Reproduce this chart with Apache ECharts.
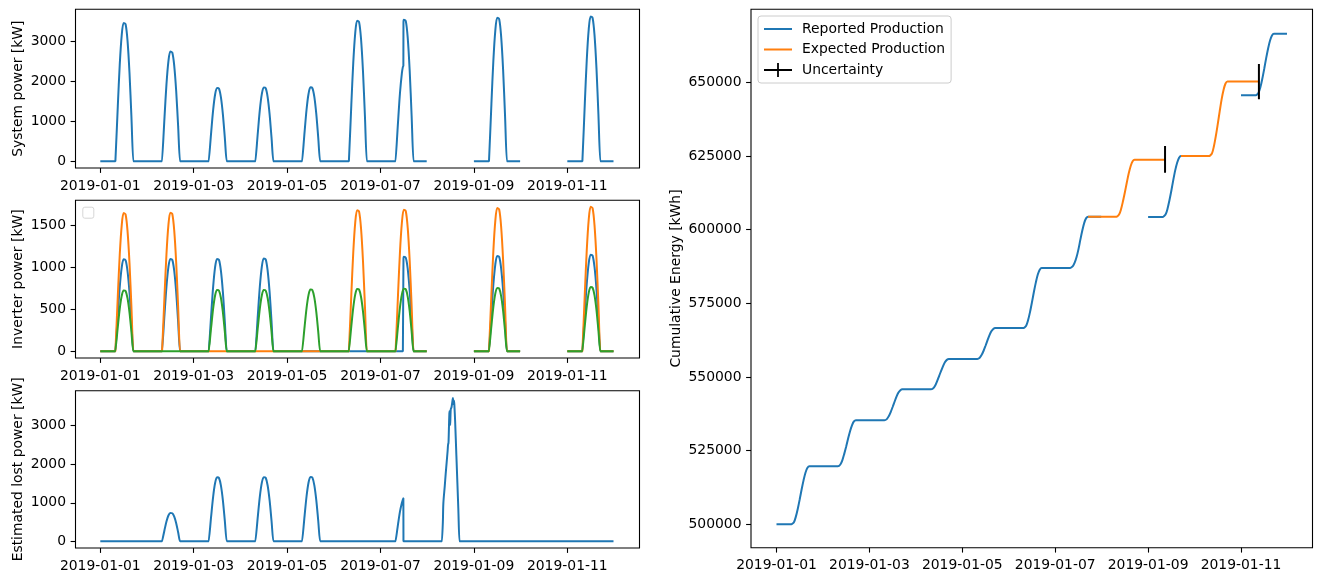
<!DOCTYPE html>
<html>
<head>
<meta charset="utf-8">
<script src="https://cdn.jsdelivr.net/npm/echarts@6.0.0/dist/echarts.min.js"></script>
<style>html,body{margin:0;padding:0;background:#fff}#c{width:1324px;height:582px}</style>
</head>
<body>
<div id="c"></div>
<script>
// ---------- DATA ----------
// Default sample hours of a day row; a row may give its own hour list as 3rd item.
const DAY_HOURS = [0, 7.75, 8, 9, 10, 11, 12, 13, 14, 15, 16, 17, 17.25, 23.75];
const ZERO_DAY = [0, 23.75];

const xTickDates = ['2019-01-01', '2019-01-03', '2019-01-05', '2019-01-07', '2019-01-09', '2019-01-11'];
const yTicksSystem = [0, 1000, 2000, 3000];
const yTicksInverter = [0, 500, 1000, 1500];
const yTicksLost = [0, 1000, 2000, 3000];
const yTicksEnergy = [500000, 525000, 550000, 575000, 600000, 625000, 650000];

// System power [kW]
const systemPower = [
  ['2019-01-01', [0, 0, 0, 1384, 2422, 3149, 3460, 3425, 3010, 2214, 1107, 0, 0, 0]],
  ['2019-01-02', [0, 0, 0, 1098, 1922, 2498, 2745, 2718, 2388, 1757, 878, 0, 0, 0]],
  ['2019-01-03', [0, 0, 0, 734, 1285, 1670, 1835, 1817, 1596, 1174, 587, 0, 0, 0]],
  ['2019-01-04', [0, 0, 0, 738, 1292, 1679, 1845, 1827, 1605, 1181, 590, 0, 0, 0]],
  ['2019-01-05', [0, 0, 0, 740, 1295, 1683, 1850, 1832, 1610, 1184, 592, 0, 0, 0]],
  ['2019-01-06', [0, 0, 0, 1406, 2461, 3199, 3515, 3480, 3058, 2250, 1125, 0, 0, 0]],
  ['2019-01-07', [0, 0, 0, 972, 1701, 2211, 2360, 2390, 3480, 3540, 3505, 3080, 2266, 1133, 0, 0, 0],
                 [0, 7.75, 8, 9, 10, 11, 11.5, 11.75, 11.8, 12, 13, 14, 15, 16, 17, 17.25, 23.75]],
  ['2019-01-09', [0, 0, 0, 1436, 2513, 3267, 3590, 3554, 3123, 2298, 1149, 0, 0, 0]],
  ['2019-01-11', [0, 0, 0, 1448, 2534, 3294, 3620, 3584, 3149, 2317, 1158, 0, 0, 0]]
];

// Inverter power [kW]
const inverterBlue = [
  ['2019-01-01', [0, 0, 0, 438, 767, 996, 1095, 1084, 953, 701, 350, 0, 0, 0]],
  ['2019-01-02', [0, 0, 0, 440, 770, 1001, 1100, 1089, 957, 704, 352, 0, 0, 0]],
  ['2019-01-03', [0, 0, 0, 440, 770, 1001, 1100, 1089, 957, 704, 352, 0, 0, 0]],
  ['2019-01-04', [0, 0, 0, 442, 774, 1006, 1105, 1094, 961, 707, 354, 0, 0, 0]],
  ['2019-01-05', [0, 0], ZERO_DAY],
  ['2019-01-06', [0, 0], ZERO_DAY],
  ['2019-01-07', [0, 0, 0, 1095, 1125, 1114, 979, 720, 360, 0, 0, 0],
                 [0, 11.5, 11.75, 11.8, 12, 13, 14, 15, 16, 17, 17.25, 23.75]],
  ['2019-01-09', [0, 0, 0, 454, 795, 1033, 1135, 1124, 987, 726, 363, 0, 0, 0]],
  ['2019-01-11', [0, 0, 0, 460, 805, 1047, 1150, 1139, 1001, 736, 368, 0, 0, 0]]
];
const inverterOrange = [
  ['2019-01-01', [0, 0, 0, 658, 1152, 1497, 1645, 1629, 1431, 1053, 526, 0, 0, 0]],
  ['2019-01-02', [0, 0, 0, 660, 1155, 1502, 1650, 1634, 1436, 1056, 528, 0, 0, 0]],
  ['2019-01-03', [0, 0], ZERO_DAY],
  ['2019-01-04', [0, 0], ZERO_DAY],
  ['2019-01-05', [0, 0], ZERO_DAY],
  ['2019-01-06', [0, 0, 0, 672, 1176, 1529, 1680, 1663, 1462, 1075, 538, 0, 0, 0]],
  ['2019-01-07', [0, 0, 0, 674, 1180, 1533, 1685, 1668, 1466, 1078, 539, 0, 0, 0]],
  ['2019-01-09', [0, 0, 0, 682, 1194, 1552, 1705, 1688, 1483, 1091, 546, 0, 0, 0]],
  ['2019-01-11', [0, 0, 0, 688, 1204, 1565, 1720, 1703, 1496, 1101, 550, 0, 0, 0]]
];
const inverterGreen = [
  ['2019-01-01', [0, 0, 0, 290, 508, 660, 725, 718, 631, 464, 232, 0, 0, 0]],
  ['2019-01-02', [0, 0], ZERO_DAY],
  ['2019-01-03', [0, 0, 0, 292, 511, 664, 730, 723, 635, 467, 234, 0, 0, 0]],
  ['2019-01-04', [0, 0, 0, 292, 511, 664, 730, 723, 635, 467, 234, 0, 0, 0]],
  ['2019-01-05', [0, 0, 0, 294, 515, 669, 735, 728, 639, 470, 235, 0, 0, 0]],
  ['2019-01-06', [0, 0, 0, 297, 519, 675, 742, 735, 646, 475, 237, 0, 0, 0]],
  ['2019-01-07', [0, 0, 0, 298, 522, 678, 745, 738, 648, 477, 238, 0, 0, 0]],
  ['2019-01-09', [0, 0, 0, 302, 529, 687, 755, 747, 657, 483, 242, 0, 0, 0]],
  ['2019-01-11', [0, 0, 0, 306, 536, 696, 765, 757, 666, 490, 245, 0, 0, 0]]
];

// Estimated lost power [kW]
const lostPower = [
  ['2019-01-01', [0, 0], ZERO_DAY],
  ['2019-01-02', [0, 0, 0, 294, 515, 669, 735, 728, 639, 470, 235, 0, 0, 0]],
  ['2019-01-03', [0, 0, 0, 664, 1162, 1511, 1660, 1643, 1444, 1062, 531, 0, 0, 0]],
  ['2019-01-04', [0, 0, 0, 666, 1166, 1515, 1665, 1648, 1449, 1066, 533, 0, 0, 0]],
  ['2019-01-05', [0, 0, 0, 668, 1169, 1520, 1670, 1653, 1453, 1069, 534, 0, 0, 0]],
  ['2019-01-06', [0, 0], ZERO_DAY],
  ['2019-01-07', [0, 0, 0, 440, 770, 1001, 1085, 1115, 0, 0, 0],
                 [0, 7.75, 8, 9, 10, 11, 11.5, 11.75, 11.8, 12, 23.75]],
  ['2019-01-08', [0, 0, 0, 500, 985, 1420, 1750, 2050, 2350, 2560, 2520, 2620, 3330, 3380, 3020, 3420, 3480, 3650, 3720, 3560, 3650, 3500, 3120, 2220, 1530, 830, 0, 0, 0],
                 [0, 7.6, 7.8, 8.05, 8.3, 9, 9.5, 10, 10.5, 10.8, 10.9, 11, 11.4, 11.6, 11.8, 12.1, 12.5, 13, 13.2, 13.5, 13.8, 14, 14.35, 15, 15.5, 16, 16.6, 16.8, 23.75]],
  ['2019-01-09', [0, 0], ZERO_DAY],
  ['2019-01-10', [0, 0], ZERO_DAY],
  ['2019-01-11', [0, 0], ZERO_DAY]
];

// Cumulative energy [kWh]
const reportedProduction = [
  ['2019-01-01', [500000, 500000, 500000, 500700, 502600, 505300, 508500, 511900, 515000, 517600, 519200, 519700, 519700, 519700]],
  ['2019-01-02', [519700, 519700, 519700, 520300, 521700, 523900, 526400, 529100, 531600, 533600, 534900, 535300, 535300, 535300]],
  ['2019-01-03', [535300, 535300, 535300, 535700, 536700, 538100, 539800, 541600, 543300, 544700, 545500, 545800, 545800, 545800]],
  ['2019-01-04', [545800, 545800, 545800, 546200, 547100, 548600, 550300, 552000, 553600, 555000, 555800, 556100, 556100, 556100]],
  ['2019-01-05', [556100, 556100, 556100, 556500, 557500, 558900, 560600, 562400, 564100, 565500, 566300, 566600, 566600, 566600]],
  ['2019-01-06', [566600, 566600, 566600, 567400, 569300, 572100, 575400, 578900, 582100, 584800, 586400, 587000, 587000, 587000]],
  ['2019-01-07', [587000, 587000, 587000, 587500, 588700, 590600, 593300, 596600, 599700, 602300, 603900, 604400, 604400, 604400]],
  ['2019-01-09', [604300, 604300, 604300, 605100, 607000, 609900, 613200, 616800, 620100, 622700, 624400, 625000, 625000, 625000]],
  ['2019-01-11', [645600, 645600, 645600, 646400, 648300, 651200, 654600, 658200, 661500, 664200, 665900, 666500, 666500, 666500]]
];
const expectedProduction = [
  ['2019-01-07', [604400, 604400], [17, 23.75]],
  ['2019-01-08', [604400, 604400, 604400, 605100, 606900, 609600, 612700, 616000, 619100, 621600, 623200, 623700, 623700, 623700]],
  ['2019-01-09', [623700, 623700], [0, 8.75]],
  ['2019-01-09', [625000, 625000], [17, 23.75]],
  ['2019-01-10', [625000, 625000, 625000, 625900, 628300, 631800, 635900, 640200, 644300, 647500, 649600, 650300, 650300, 650300]],
  ['2019-01-11', [650300, 650300], [0, 9.25]]
];
const uncertaintyDay = ['2019-01-09', '2019-01-11'];
const uncertaintyHour = [8.75, 9.25];
const uncertaintyLow = [619300, 644250];
const uncertaintyHigh = [628400, 656200];

// ---------- helpers ----------
const DAY = 86400000;
function toTime(date, hour) {
  const p = date.split('-').map(Number);
  const h = Math.floor(hour);
  const mi = Math.round((hour - h) * 60);
  return new Date(p[0], p[1] - 1, p[2], h, mi).getTime();
}
function buildSeries(rows) {
  const out = [];
  let last = null;
  rows.forEach(r => {
    const hours = r[2] || DAY_HOURS;
    const vals = r[1];
    const first = toTime(r[0], hours[0]);
    if (last !== null && first - last > 3600000) out.push([(first + last) / 2, null]);
    hours.forEach((h, i) => out.push([toTime(r[0], h), vals[i]]));
    last = toTime(r[0], hours[hours.length - 1]);
  });
  return out;
}
function pad(n) { return n < 10 ? '0' + n : '' + n; }
function fmtDate(v) {
  const d = new Date(v);
  return d.getFullYear() + '-' + pad(d.getMonth() + 1) + '-' + pad(d.getDate());
}
const T0 = toTime('2019-01-01', 0);
const xTickValues = xTickDates.map(d => toTime(d, 0));
const FONT = 'DejaVu Sans';
const FS = 13.9;
const BLUE = '#1f77b4', ORANGE = '#ff7f0e', GREEN = '#2ca02c';
// legend line handle: a 28x14 box holding a 2px horizontal bar
const LINE_ICON = 'path://M0,0 L0.01,0 L0,0.01 Z M28,14 L27.99,14 L28,13.99 Z M0,6 L28,6 L28,8 L0,8 Z';
const CROSS_ICON = 'path://M0,6.1 L28,6.1 L28,7.9 L0,7.9 Z M13.1,0 L14.9,0 L14.9,14 L13.1,14 Z';

const grids = [
  {left: 75.5, top: 9.3, width: 564, height: 158.7},
  {left: 75.5, top: 200.3, width: 564, height: 157.7},
  {left: 75.5, top: 390.7, width: 564, height: 157.3},
  {left: 751, top: 9.3, width: 561.5, height: 538.4}
].map(g => Object.assign(g, {show: true, borderColor: '#000', borderWidth: 1.1, backgroundColor: '#fff', containLabel: false}));

function xAxis(gi, minDay, maxDay) {
  return {
    type: 'value', gridIndex: gi, min: T0 + minDay * DAY, max: T0 + maxDay * DAY,
    axisLine: {show: false, onZero: false},
    splitLine: {show: false},
    axisTick: {show: true, length: 4.9, customValues: xTickValues, lineStyle: {color: '#000', width: 1.1}},
    axisLabel: {show: true, customValues: xTickValues, margin: 11, color: '#000', fontSize: FS, fontFamily: FONT,
                formatter: v => fmtDate(v), hideOverlap: false}
  };
}
function yAxis(gi, min, max, ticks, name, gap) {
  return {
    type: 'value', gridIndex: gi, min: min, max: max,
    name: name, nameLocation: 'middle', nameGap: gap,
    nameTextStyle: {color: '#000', fontSize: FS, fontFamily: FONT},
    axisLine: {show: false, onZero: false},
    splitLine: {show: false},
    axisTick: {show: true, length: 4.9, customValues: ticks, lineStyle: {color: '#000', width: 1.1}},
    axisLabel: {show: true, customValues: ticks, margin: 9.5, color: '#000', fontSize: FS, fontFamily: FONT,
                formatter: v => String(Math.round(v)), hideOverlap: false}
  };
}
function lineSeries(name, xi, data, color, smooth) {
  return {
    type: 'line', name: name, xAxisIndex: xi, yAxisIndex: xi, data: data,
    symbol: 'none', showSymbol: false, connectNulls: false, clip: true,
    smooth: smooth === undefined ? 0.3 : smooth,
    lineStyle: {color: color, width: 2}, itemStyle: {color: color},
    emphasis: {disabled: true}, silent: true
  };
}

const uncertaintyData = [];
uncertaintyDay.forEach((d, i) => {
  const t = toTime(d, uncertaintyHour[i]);
  if (i > 0) uncertaintyData.push([t - 3600000, null]);
  uncertaintyData.push([t, uncertaintyLow[i]]);
  uncertaintyData.push([t, uncertaintyHigh[i]]);
});

const option = {
  animation: false,
  backgroundColor: '#fff',
  textStyle: {fontFamily: FONT},
  grid: grids,
  xAxis: [xAxis(0, -0.531, 11.546), xAxis(1, -0.531, 11.546), xAxis(2, -0.531, 11.546), xAxis(3, -0.549, 11.539)],
  yAxis: [
    yAxis(0, -167.5, 3800, yTicksSystem, 'System power [kW]', 50),
    yAxis(1, -79.8, 1797.6, yTicksInverter, 'Inverter power [kW]', 50),
    yAxis(2, -173.9, 3908, yTicksLost, 'Estimated lost power [kW]', 50),
    yAxis(3, 492059, 674773, yTicksEnergy, 'Cumulative Energy [kWh]', 68)
  ],
  legend: {
    show: true, orient: 'vertical', left: 758, top: 16,
    padding: [6, 6, 6, 6], itemGap: 6.5, itemWidth: 28, itemHeight: 14,
    backgroundColor: '#fff', borderColor: '#cccccc', borderWidth: 1, borderRadius: 3,
    textStyle: {fontSize: FS, color: '#000', fontFamily: FONT, lineHeight: 14, padding: [0, 0, 0, 5]},
    selectedMode: false,
    data: [
      {name: 'Reported Production', icon: LINE_ICON},
      {name: 'Expected Production', icon: LINE_ICON},
      {name: 'Uncertainty', icon: CROSS_ICON}
    ]
  },
  graphic: [{
    type: 'rect', left: 82.3, top: 206.7, shape: {width: 11, height: 11, r: 2},
    style: {fill: '#fff', stroke: '#d6d6d6', lineWidth: 1}, silent: true, z: 100
  }],
  series: [
    lineSeries('System power', 0, buildSeries(systemPower), BLUE),
    lineSeries('Inverter 1', 1, buildSeries(inverterBlue), BLUE),
    lineSeries('Inverter 2', 1, buildSeries(inverterOrange), ORANGE),
    lineSeries('Inverter 3', 1, buildSeries(inverterGreen), GREEN),
    lineSeries('Estimated lost power', 2, buildSeries(lostPower), BLUE),
    lineSeries('Reported Production', 3, buildSeries(reportedProduction), BLUE),
    lineSeries('Expected Production', 3, buildSeries(expectedProduction), ORANGE),
    lineSeries('Uncertainty', 3, uncertaintyData, '#000', false)
  ]
};
const chart = echarts.init(document.getElementById('c'), null, {renderer: 'canvas'});
chart.setOption(option);
</script>
</body>
</html>
